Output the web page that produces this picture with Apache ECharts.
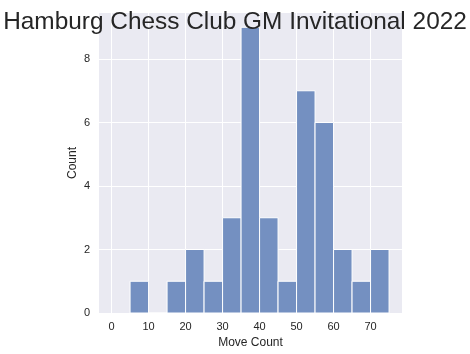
<!DOCTYPE html>
<html>
<head>
    <meta charset="utf-8">
    <script src="https://cdn.jsdelivr.net/npm/echarts@6/dist/echarts.min.js"></script>
</head>
<body style="margin:0">
    <div id="main" style="width: 470px;height:354px;"></div>
    <script type="text/javascript">
        // histogram bins (width 5) and counts
        var binStarts = [5, 10, 15, 20, 25, 30, 35, 40, 45, 50, 55, 60, 65, 70];
        var counts = [1, 0, 1, 2, 1, 3, 9, 3, 1, 7, 6, 2, 1, 2];
        var binWidth = 5;
        var yTicks = [0, 2, 4, 6, 8];

        var data = binStarts.map(function (s, i) { return [s, s + binWidth, counts[i]]; });

        var myChart = echarts.init(document.getElementById('main'));
        var font = 'Liberation Sans, Arial, sans-serif';
        myChart.setOption({
            animation: false,
            title: {
                text: 'Hamburg Chess Club GM Invitational 2022',
                left: 'center',
                top: 5,
                textStyle: { fontFamily: font, fontSize: 24.4, fontWeight: 'normal', color: '#262626' }
            },
            grid: {
                left: 99, right: 68, top: 13, bottom: 41,
                show: true, backgroundColor: '#eaeaf2', borderWidth: 0
            },
            xAxis: {
                type: 'value',
                min: -3.4, max: 78.5,
                minInterval: 10, maxInterval: 10,
                name: 'Move Count', nameLocation: 'middle', nameGap: 22,
                nameTextStyle: { fontFamily: font, fontSize: 12, color: '#262626' },
                axisLine: { show: false }, axisTick: { show: false },
                axisLabel: { fontFamily: font, fontSize: 11, color: '#262626', margin: 8,
                    showMinLabel: false, showMaxLabel: false },
                splitLine: { show: true, showMinLine: false, showMaxLine: false,
                    lineStyle: { color: '#ffffff', width: 1 } }
            },
            yAxis: {
                type: 'value',
                min: yTicks[0], max: 9.45,
                interval: 2,
                name: 'Count', nameLocation: 'middle', nameGap: 20,
                nameMoveOverlap: false,
                nameTextStyle: { fontFamily: font, fontSize: 12, color: '#262626' },
                axisLine: { show: false }, axisTick: { show: false },
                axisLabel: { fontFamily: font, fontSize: 11, color: '#262626', margin: 9,
                    showMaxLabel: false },
                splitLine: { show: true, showMinLine: false, showMaxLine: false,
                    lineStyle: { color: '#ffffff', width: 1 } }
            },
            series: [{
                type: 'custom',
                data: data,
                encode: { x: [0, 1], y: 2 },
                renderItem: function (params, api) {
                    var p0 = api.coord([api.value(0), 0]);
                    var p1 = api.coord([api.value(1), api.value(2)]);
                    return {
                        type: 'rect',
                        shape: { x: p0[0], y: p1[1], width: p1[0] - p0[0], height: p0[1] - p1[1] },
                        style: { fill: '#7490c1', stroke: '#ffffff', lineWidth: 1 }
                    };
                }
            }]
        });
    </script>
</body>
</html>
